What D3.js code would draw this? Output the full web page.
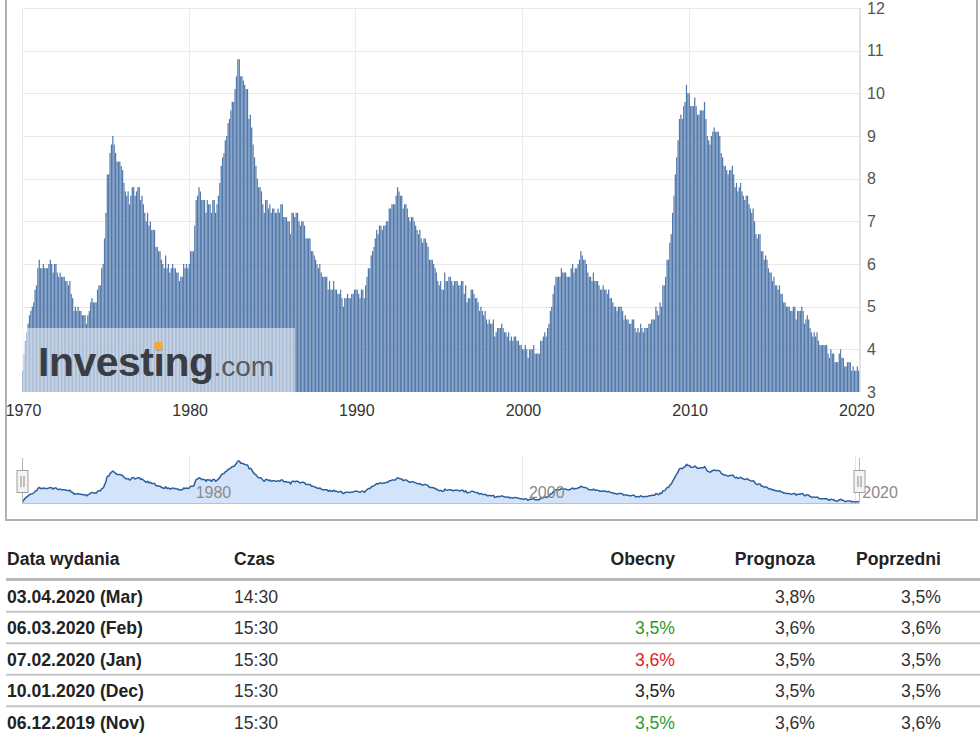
<!DOCTYPE html>
<html>
<head>
<meta charset="utf-8">
<script src="https://cdn.jsdelivr.net/npm/d3@7"></script>
<style>
  html, body { margin: 0; padding: 0; background: #fff; }
  svg { display: block; font-family: Arial, "Liberation Sans", sans-serif; }
</style>
</head>
<body>
<svg id="chart" width="980" height="738"></svg>
<script>
// ---- DATA (US unemployment rate, %, by data month; each bar is plotted at its release month) ----
const firstDataMonth = [1969, 11]; // Dec 1969 (year, 0-based month)
const rates1969 = [3.5];
const rates1970s = [
  3.9, 4.2, 4.4, 4.6, 4.8, 4.9, 5.0, 5.1, 5.4, 5.5, 5.9, 6.1,
  5.9, 5.9, 6.0, 5.9, 5.9, 5.9, 6.0, 6.1, 6.0, 5.8, 6.0, 6.0,
  5.8, 5.7, 5.8, 5.7, 5.7, 5.7, 5.6, 5.6, 5.5, 5.6, 5.3, 5.2,
  4.9, 5.0, 4.9, 5.0, 4.9, 4.9, 4.8, 4.8, 4.8, 4.6, 4.8, 4.9,
  5.1, 5.2, 5.1, 5.1, 5.1, 5.4, 5.5, 5.5, 5.9, 6.0, 6.6, 7.2,
  8.1, 8.1, 8.6, 8.8, 9.0, 8.8, 8.6, 8.4, 8.4, 8.4, 8.3, 8.2,
  7.9, 7.7, 7.6, 7.7, 7.4, 7.6, 7.8, 7.8, 7.6, 7.7, 7.8, 7.8,
  7.5, 7.6, 7.4, 7.2, 7.0, 7.2, 6.9, 7.0, 6.8, 6.8, 6.8, 6.4,
  6.4, 6.3, 6.3, 6.1, 6.0, 5.9, 6.2, 5.9, 6.0, 5.8, 5.9, 6.0,
  5.9, 5.9, 5.8, 5.8, 5.6, 5.7, 5.7, 6.0, 5.9, 6.0, 5.9, 6.0
];
const rates1980s = [
  6.3, 6.3, 6.3, 6.9, 7.5, 7.6, 7.8, 7.7, 7.5, 7.5, 7.5, 7.2,
  7.5, 7.4, 7.4, 7.2, 7.5, 7.5, 7.2, 7.4, 7.6, 7.9, 8.3, 8.5,
  8.6, 8.9, 9.0, 9.3, 9.4, 9.6, 9.8, 9.8, 10.1, 10.4, 10.8, 10.8,
  10.4, 10.4, 10.3, 10.2, 10.1, 10.1, 9.4, 9.5, 9.2, 8.8, 8.5, 8.3,
  8.0, 7.8, 7.8, 7.7, 7.4, 7.2, 7.5, 7.5, 7.3, 7.4, 7.2, 7.3,
  7.3, 7.2, 7.2, 7.3, 7.2, 7.4, 7.4, 7.1, 7.1, 7.1, 7.0, 7.0,
  6.7, 7.2, 7.2, 7.1, 7.2, 7.2, 7.0, 6.9, 7.0, 7.0, 6.9, 6.6,
  6.6, 6.6, 6.6, 6.3, 6.3, 6.2, 6.1, 6.0, 5.9, 6.0, 5.8, 5.7,
  5.7, 5.7, 5.7, 5.4, 5.6, 5.4, 5.4, 5.6, 5.4, 5.4, 5.3, 5.3,
  5.4, 5.2, 5.0, 5.2, 5.2, 5.3, 5.2, 5.2, 5.3, 5.3, 5.4, 5.4
];
const rates1990s = [
  5.4, 5.3, 5.2, 5.4, 5.4, 5.2, 5.5, 5.7, 5.9, 5.9, 6.2, 6.3,
  6.4, 6.6, 6.8, 6.7, 6.9, 6.9, 6.8, 6.9, 6.9, 7.0, 7.0, 7.3,
  7.3, 7.4, 7.4, 7.4, 7.6, 7.8, 7.7, 7.6, 7.6, 7.3, 7.4, 7.4,
  7.3, 7.1, 7.0, 7.1, 7.1, 7.0, 6.9, 6.8, 6.7, 6.8, 6.6, 6.5,
  6.6, 6.6, 6.5, 6.4, 6.1, 6.1, 6.1, 6.0, 5.9, 5.8, 5.6, 5.5,
  5.6, 5.4, 5.4, 5.8, 5.6, 5.6, 5.7, 5.7, 5.6, 5.5, 5.6, 5.6,
  5.6, 5.5, 5.5, 5.6, 5.6, 5.3, 5.5, 5.1, 5.2, 5.2, 5.4, 5.4,
  5.3, 5.2, 5.2, 5.1, 4.9, 5.0, 4.9, 4.8, 4.9, 4.7, 4.6, 4.7,
  4.6, 4.6, 4.7, 4.3, 4.4, 4.5, 4.5, 4.5, 4.6, 4.5, 4.4, 4.4,
  4.3, 4.4, 4.2, 4.3, 4.2, 4.3, 4.3, 4.2, 4.2, 4.1, 4.1, 4.0
];
const rates2000s = [
  4.0, 4.1, 4.0, 3.8, 4.0, 4.0, 4.0, 4.1, 3.9, 3.9, 3.9, 3.9,
  4.2, 4.2, 4.3, 4.4, 4.3, 4.5, 4.6, 4.9, 5.0, 5.3, 5.5, 5.7,
  5.7, 5.7, 5.7, 5.9, 5.8, 5.8, 5.8, 5.7, 5.7, 5.7, 5.9, 6.0,
  5.8, 5.9, 5.9, 6.0, 6.1, 6.3, 6.2, 6.1, 6.1, 6.0, 5.8, 5.7,
  5.7, 5.6, 5.8, 5.6, 5.6, 5.6, 5.5, 5.4, 5.4, 5.5, 5.4, 5.4,
  5.3, 5.4, 5.2, 5.2, 5.1, 5.0, 5.0, 4.9, 5.0, 5.0, 5.0, 4.9,
  4.7, 4.8, 4.7, 4.7, 4.6, 4.6, 4.7, 4.7, 4.5, 4.4, 4.5, 4.4,
  4.6, 4.5, 4.4, 4.5, 4.5, 4.5, 4.6, 4.6, 4.7, 4.7, 4.7, 5.0,
  4.9, 4.8, 5.1, 5.0, 5.5, 5.5, 5.7, 6.1, 6.1, 6.5, 6.7, 7.2,
  7.6, 8.1, 8.5, 8.9, 9.4, 9.5, 9.4, 9.7, 9.8, 10.2, 10.0, 10.0
];
const rates2010s = [
  9.7, 9.7, 9.7, 9.9, 9.7, 9.5, 9.5, 9.6, 9.6, 9.6, 9.8, 9.4,
  9.0, 8.9, 8.8, 9.0, 9.1, 9.2, 9.1, 9.1, 9.1, 9.0, 8.6, 8.5,
  8.3, 8.3, 8.2, 8.1, 8.2, 8.2, 8.3, 8.1, 7.8, 7.9, 7.7, 7.8,
  7.9, 7.7, 7.6, 7.5, 7.6, 7.6, 7.4, 7.3, 7.2, 7.3, 7.0, 6.7,
  6.6, 6.7, 6.7, 6.3, 6.3, 6.1, 6.2, 6.1, 5.9, 5.8, 5.8, 5.6,
  5.7, 5.5, 5.5, 5.4, 5.5, 5.3, 5.3, 5.1, 5.1, 5.0, 5.0, 5.0,
  4.9, 4.9, 5.0, 5.0, 4.7, 4.9, 4.9, 4.9, 5.0, 4.9, 4.6, 4.7,
  4.8, 4.7, 4.5, 4.4, 4.3, 4.4, 4.3, 4.4, 4.2, 4.1, 4.1, 4.1,
  4.1, 4.1, 4.1, 3.9, 3.8, 4.0, 3.9, 3.9, 3.7, 3.7, 3.7, 3.9,
  4.0, 3.8, 3.8, 3.6, 3.6, 3.7, 3.7, 3.7, 3.5, 3.6, 3.5, 3.5
];
const rates2020 = [3.6, 3.5];

const xTickYears = [1970, 1980, 1990, 2000, 2010, 2020];
const yTicks = [3, 4, 5, 6, 7, 8, 9, 10, 11, 12];
const navTickYears = [1980, 2000, 2020];

const tableHeaders = ["Data wydania", "Czas", "Obecny", "Prognoza", "Poprzedni"];
const releaseDates = ["03.04.2020 (Mar)", "06.03.2020 (Feb)", "07.02.2020 (Jan)", "10.01.2020 (Dec)", "06.12.2019 (Nov)"];
const releaseTimes = ["14:30", "15:30", "15:30", "15:30", "15:30"];
const actualValues = ["", "3,5%", "3,6%", "3,5%", "3,5%"];
const actualTrend = ["", "up", "down", "none", "up"];
const forecastValues = ["3,8%", "3,6%", "3,5%", "3,5%", "3,6%"];
const previousValues = ["3,5%", "3,6%", "3,5%", "3,5%", "3,6%"];

// ---- build series ----
const allRates = [].concat(rates1969, rates1970s, rates1980s, rates1990s, rates2000s, rates2010s, rates2020);
const series = allRates.map((v, i) => ({
  value: v,
  date: new Date(Date.UTC(firstDataMonth[0], firstDataMonth[1] + i + 1, 1)),
  next: new Date(Date.UTC(firstDataMonth[0], firstDataMonth[1] + i + 2, 1))
}));

const svg = d3.select("#chart");

// outer container border
svg.append("rect").attr("x", 6).attr("y", -10).attr("width", 971).attr("height", 530)
  .attr("fill", "none").attr("stroke", "#b0b0b0").attr("stroke-width", 2);

// ---- scales ----
const x = d3.scaleUtc()
  .domain([new Date(Date.UTC(1970, 0, 1)), new Date(Date.UTC(2020, 0, 1))])
  .range([22, 855.3]);
const plotRight = x(new Date(Date.UTC(2020, 3, 1)));
const y = d3.scaleLinear().domain([3, 12]).range([392, 8]);

// grid
const grid = svg.append("g");
grid.selectAll("line.h").data(yTicks.filter(t => t > 3)).join("line")
  .attr("x1", 22).attr("x2", plotRight)
  .attr("y1", d => Math.round(y(d)) + 0.5).attr("y2", d => Math.round(y(d)) + 0.5)
  .attr("stroke", "#e8e8e8").attr("stroke-width", 1);
grid.selectAll("line.v").data(xTickYears.slice(0, 5)).join("line")
  .attr("x1", d => Math.round(x(new Date(Date.UTC(d, 0, 1)))) + 0.5)
  .attr("x2", d => Math.round(x(new Date(Date.UTC(d, 0, 1)))) + 0.5)
  .attr("y1", 8).attr("y2", 392)
  .attr("stroke", "#ebebeb").attr("stroke-width", 1);

// bars
svg.append("g").selectAll("rect").data(series).join("rect")
  .attr("x", d => x(d.date))
  .attr("width", d => (x(d.next) - x(d.date)) * 0.88)
  .attr("y", d => y(d.value))
  .attr("height", d => y(3) - y(d.value))
  .attr("fill", "#5279ab");

// right axis line
svg.append("line").attr("x1", plotRight + 0.5).attr("x2", plotRight + 0.5)
  .attr("y1", 8).attr("y2", 392).attr("stroke", "#c4c4c4");

// y axis labels (right)
const yAxis = d3.axisRight(y).tickValues(yTicks).tickSize(0).tickPadding(0).tickFormat(d3.format("d"));
const gy = svg.append("g").attr("transform", `translate(${867},0)`).call(yAxis);
gy.select(".domain").remove();
gy.selectAll("text").attr("font-size", 16).attr("fill", "#555").attr("font-family", "Arial, 'Liberation Sans', sans-serif");

// x axis labels
const xAxis = d3.axisBottom(x).tickValues(xTickYears.map(yr => new Date(Date.UTC(yr, 0, 1))))
  .tickSize(0).tickPadding(0).tickFormat(d3.utcFormat("%Y"));
const gx = svg.append("g").attr("transform", "translate(1,405)").call(xAxis);
gx.select(".domain").remove();
gx.selectAll("text").attr("font-size", 16).attr("fill", "#333").attr("font-family", "Arial, 'Liberation Sans', sans-serif");

// watermark
svg.append("rect").attr("x", 22).attr("y", 328).attr("width", 273).attr("height", 64)
  .attr("fill", "#fff").attr("fill-opacity", 0.5);
const wm = svg.append("text").attr("x", 38).attr("y", 376)
  .attr("font-family", "Arial, 'Liberation Sans', sans-serif");
wm.append("tspan").attr("font-size", 41).attr("font-weight", "bold").attr("fill", "#3a3d43")
  .attr("letter-spacing", -0.5).text("Investing");
wm.append("tspan").attr("font-size", 28).attr("fill", "#555a61").attr("letter-spacing", 0).text(".com");
{
  const t = wm.node().firstChild;
  const before = t.getSubStringLength(0, 6);
  const iw = t.getSubStringLength(6, 1);
  svg.append("rect").attr("x", 38 + before + iw / 2 - 4.5).attr("y", 342)
    .attr("width", 8).attr("height", 8).attr("fill", "#f3a93a");
}

// ---- navigator ----
const navTop = 461, navBottom = 503;
const yn = d3.scaleLinear().domain([d3.min(allRates), d3.max(allRates)]).range([navBottom - 1, navTop]);
const navG = svg.append("g");
navG.selectAll("line").data(navTickYears).join("line")
  .attr("x1", d => Math.round(x(new Date(Date.UTC(d, 0, 1)))) + 0.5)
  .attr("x2", d => Math.round(x(new Date(Date.UTC(d, 0, 1)))) + 0.5)
  .attr("y1", 456).attr("y2", navBottom).attr("stroke", "#e6e6e6");
const mid = d => x(d.date) + (x(d.next) - x(d.date)) / 2;
navG.append("path").datum(series)
  .attr("d", d3.area().x(mid).y0(navBottom).y1(d => yn(d.value)).curve(d3.curveMonotoneX))
  .attr("fill", "#d3e4fa");
navG.append("path").datum(series)
  .attr("d", d3.line().x(mid).y(d => yn(d.value)).curve(d3.curveMonotoneX))
  .attr("fill", "none").attr("stroke", "#2a5f9e").attr("stroke-width", 1.5);
navG.append("line").attr("x1", 22).attr("x2", plotRight).attr("y1", navBottom + 0.5).attr("y2", navBottom + 0.5)
  .attr("stroke", "#c0c0c0");
navG.selectAll("text").data(navTickYears).join("text")
  .attr("x", d => x(new Date(Date.UTC(d, 0, 1))) + 7)
  .attr("y", 498)
  .attr("font-size", 16).attr("fill", "#8a8a8a")
  .text(d => d);

// handles
[22, plotRight].forEach(hx => {
  const cx = Math.round(hx) + 0.5;
  navG.append("line").attr("x1", cx).attr("x2", cx).attr("y1", 458).attr("y2", 503).attr("stroke", "#b5b5b5");
  navG.append("rect").attr("x", cx - 5.5).attr("y", 470.5).attr("width", 11).attr("height", 22)
    .attr("fill", "#f4f4f4").attr("stroke", "#a0a0a0");
  [-1.5, 1.5].forEach(o => navG.append("line").attr("x1", cx + o).attr("x2", cx + o)
    .attr("y1", 476).attr("y2", 487).attr("stroke", "#8a8a8a"));
});

// ---- table ----
const colLeft = [7, 234];
const colRight = [675, 815, 941];
const tbl = svg.append("g").attr("font-family", "Arial, 'Liberation Sans', sans-serif").attr("font-size", 17.6);
const headY = 565;
tbl.append("text").attr("x", colLeft[0]).attr("y", headY).attr("font-weight", "bold").attr("fill", "#222").text(tableHeaders[0]);
tbl.append("text").attr("x", colLeft[1]).attr("y", headY).attr("font-weight", "bold").attr("fill", "#222").text(tableHeaders[1]);
tableHeaders.slice(2).forEach((h, i) => tbl.append("text").attr("x", colRight[i]).attr("y", headY)
  .attr("text-anchor", "end").attr("font-weight", "bold").attr("fill", "#222").text(h));
tbl.append("rect").attr("x", 6).attr("y", 578).attr("width", 974).attr("height", 3).attr("fill", "#b8b8b8");

const rowCenters = [596, 627.5, 659, 690.5, 722];
const trendColor = { up: "#2e9a2e", down: "#e0202a", none: "#222", "": "#222" };
releaseDates.forEach((d, i) => {
  const by = rowCenters[i] + 6.5;
  tbl.append("text").attr("x", colLeft[0]).attr("y", by).attr("font-weight", "bold").attr("fill", "#222").text(d);
  tbl.append("text").attr("x", colLeft[1]).attr("y", by).attr("fill", "#333").text(releaseTimes[i]);
  tbl.append("text").attr("x", colRight[0]).attr("y", by).attr("text-anchor", "end")
    .attr("fill", trendColor[actualTrend[i]]).text(actualValues[i]);
  tbl.append("text").attr("x", colRight[1]).attr("y", by).attr("text-anchor", "end").attr("fill", "#333").text(forecastValues[i]);
  tbl.append("text").attr("x", colRight[2]).attr("y", by).attr("text-anchor", "end").attr("fill", "#333").text(previousValues[i]);
  if (i < releaseDates.length - 1) {
    tbl.append("rect").attr("x", 6).attr("y", (rowCenters[i] + rowCenters[i + 1]) / 2 - 1)
      .attr("width", 974).attr("height", 2).attr("fill", "#c4c4c4");
  }
});
</script>
</body>
</html>
